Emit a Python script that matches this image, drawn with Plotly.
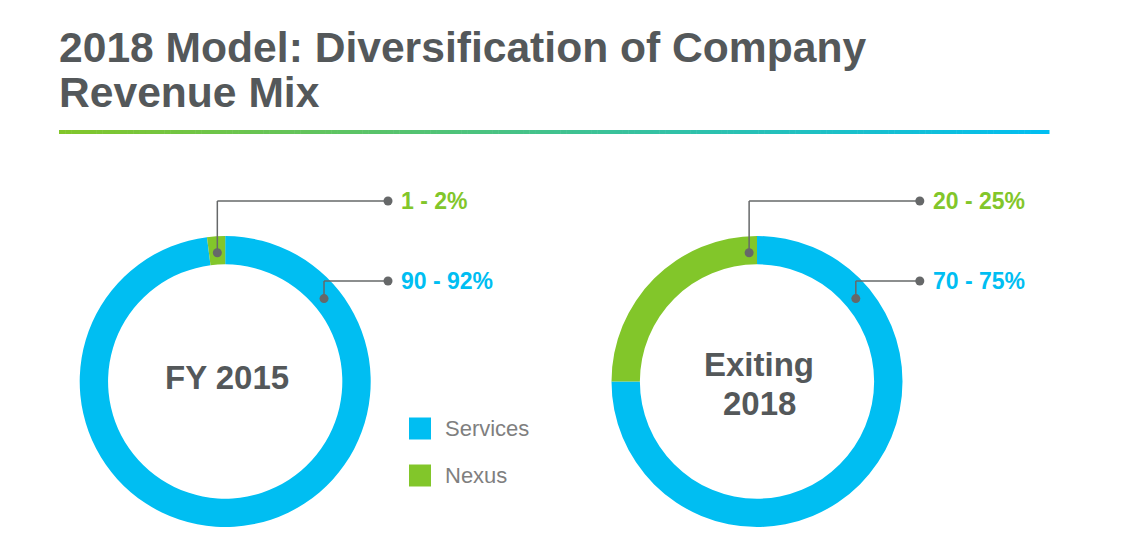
import math
import plotly.graph_objects as go

# the page body has an 8px margin, so the figure is drawn 8px smaller and
# all layout positions below are given in window pixels
PAGE_W, PAGE_H = 1126, 552
OFF = 8
W, H = PAGE_W - OFF, PAGE_H - OFF

# data
segments = ["Services", "Nexus"]
periods = ["FY 2015", "Exiting<br>2018"]
services_share = [98, 75]
nexus_share = [2, 25]
services_labels = ["90 - 92%", "70 - 75%"]
nexus_labels = ["1 - 2%", "20 - 25%"]

CYAN = "#00BEF2"
GREEN = "#82C62A"
GREY = "#54585A"
LINE_GREY = "#666869"
FONT = "Liberation Sans, Arial, sans-serif"

# pie geometry (window pixels)
centers = [(225.2, 381.5), (757.0, 381.5)]
R_OUT = 145.5
HOLE = 0.805


def px(x):
    return (x - OFF) / W


def py(y):
    return 1 - (y - OFF) / H


fig = go.Figure()
shapes = []
annotations = []

for i, (cx, cy) in enumerate(centers):
    fig.add_trace(go.Pie(
        labels=segments,
        values=[services_share[i], nexus_share[i]],
        hole=HOLE,
        sort=False,
        direction="clockwise",
        rotation=0,
        textinfo="none",
        hoverinfo="label+percent",
        marker=dict(colors=[CYAN, GREEN], line=dict(width=0)),
        domain=dict(x=[px(cx - R_OUT), px(cx + R_OUT)],
                    y=[py(cy + R_OUT), py(cy - R_OUT)]),
        showlegend=False,
    ))

    # centre caption
    lines = periods[i].split("<br>")
    if len(lines) == 1:
        ys = [cy - 4]
    else:
        ys = [cy - 17, cy + 22]
    for txt, yy in zip(lines, ys):
        annotations.append(dict(
            x=px(cx + 2), y=py(yy), xref="paper", yref="paper",
            text="<b>%s</b>" % txt, showarrow=False,
            xanchor="center", yanchor="middle",
            font=dict(family=FONT, size=33, color=GREY),
        ))

    # leader lines: (angle from top in degrees, label y offset, text, colour)
    r_mid = 129
    end_x = cx + 162.8
    for ang, dy, txt, col in [(-3.5, -180.5, nexus_labels[i], GREEN),
                              (50.0, -100.5, services_labels[i], CYAN)]:
        dx0 = cx + r_mid * math.sin(math.radians(ang))
        dy0 = cy - r_mid * math.cos(math.radians(ang))
        ly = cy + dy
        shapes.append(dict(type="line", xref="paper", yref="paper",
                           x0=px(dx0), y0=py(dy0), x1=px(dx0), y1=py(ly),
                           line=dict(color=LINE_GREY, width=1.5)))
        shapes.append(dict(type="line", xref="paper", yref="paper",
                           x0=px(dx0), y0=py(ly), x1=px(end_x), y1=py(ly),
                           line=dict(color=LINE_GREY, width=1.5)))
        for (ox, oy) in [(dx0, dy0), (end_x, ly)]:
            shapes.append(dict(type="circle", xref="paper", yref="paper",
                               x0=px(ox - 4.5), x1=px(ox + 4.5),
                               y0=py(oy + 4.5), y1=py(oy - 4.5),
                               fillcolor=LINE_GREY, line=dict(width=0)))
        annotations.append(dict(
            x=px(end_x + 11), y=py(ly), xref="paper", yref="paper",
            text="<b>%s</b>" % txt, showarrow=False,
            xanchor="left", yanchor="middle",
            font=dict(family=FONT, size=23, color=col),
        ))

# legend
for name, col, ly in [(segments[0], CYAN, 428.5), (segments[1], GREEN, 475.5)]:
    shapes.append(dict(type="rect", xref="paper", yref="paper",
                       x0=px(409), x1=px(431), y0=py(ly + 11), y1=py(ly - 11),
                       fillcolor=col, line=dict(width=0)))
    annotations.append(dict(
        x=px(443), y=py(ly), xref="paper", yref="paper",
        text=name, showarrow=False, xanchor="left", yanchor="middle",
        font=dict(family=FONT, size=22, color="#7F7F7F"),
    ))

# title
for txt, yy in [("2018 Model: Diversification of Company", 47), ("Revenue Mix", 92)]:
    annotations.append(dict(
        x=px(57), y=py(yy), xref="paper", yref="paper",
        text="<b>%s</b>" % txt, showarrow=False,
        xanchor="left", yanchor="middle",
        font=dict(family=FONT, size=42.6, color=GREY),
    ))

# gradient rule under the title
c0 = (0x82, 0xC6, 0x2A)
c1 = (0x00, 0xBE, 0xF2)
n = 160
x_start, x_end = 59, 1049
step = (x_end - x_start) / n
for k in range(n):
    t = k / (n - 1)
    col = "rgb(%d,%d,%d)" % tuple(round(a + (b - a) * t) for a, b in zip(c0, c1))
    shapes.append(dict(type="rect", xref="paper", yref="paper",
                       x0=px(x_start + k * step), x1=px(x_start + (k + 1) * step + 0.5),
                       y0=py(134), y1=py(130),
                       fillcolor=col, line=dict(width=0), layer="below"))

fig.update_layout(
    width=W, height=H,
    margin=dict(l=0, r=0, t=0, b=0),
    paper_bgcolor="white",
    plot_bgcolor="white",
    shapes=shapes,
    annotations=annotations,
    font=dict(family=FONT),
)

fig.write_html("out.html")
